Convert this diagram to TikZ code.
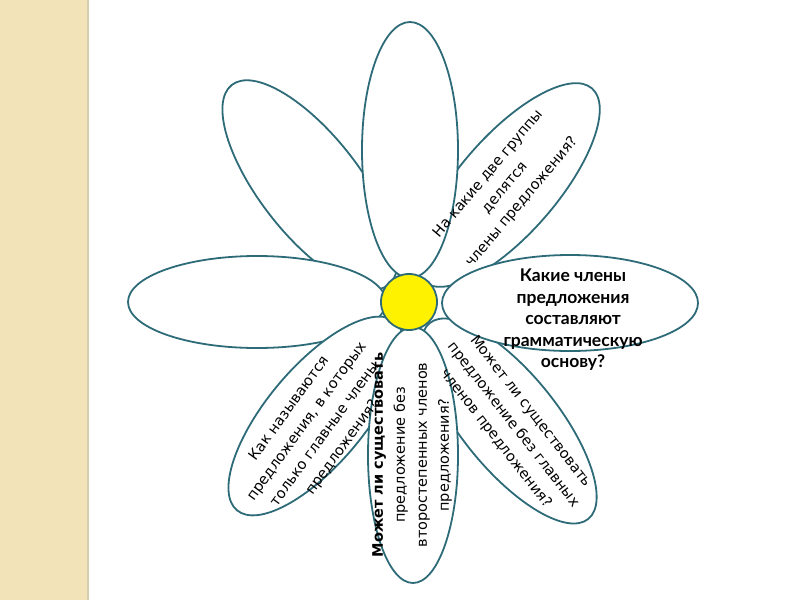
\documentclass[tikz,border=0pt]{standalone}
\usepackage{fontspec}
\setmainfont{Lato}
\newfontfamily\qfont{DejaVu Sans}
\definecolor{stripe}{RGB}{242,228,184}
\definecolor{stripeedge}{RGB}{214,206,176}
\definecolor{outline}{RGB}{46,107,120}
\begin{document}
\begin{tikzpicture}[x=1pt,y=-1pt,
  petal/.style={draw=outline, line width=1.8pt, fill=white},
  qtext/.style={align=center, font=\qfont\fontsize{14.5}{22}\selectfont, inner sep=0pt},
  btext/.style={align=center, font=\bfseries\fontsize{17.5}{21.5}\selectfont, inner sep=0pt}]
\useasboundingbox (0,0) rectangle (800,600);
% left stripe
\fill[stripe] (0,0) rectangle (88,600);
\draw[stripeedge, line width=2pt] (88,0) -- (88,600);
% petals
\draw[petal, rotate around={128:(310,185)}] (310,185) ellipse [x radius=127pt, y radius=50pt];
\draw[petal, rotate around={49:(508,185)}] (508,185) ellipse [x radius=128pt, y radius=49pt];
\draw[petal] (410,150) ellipse [x radius=48pt, y radius=128pt];
\draw[petal] (257,302) ellipse [x radius=129pt, y radius=46pt];
\draw[petal, rotate around={50:(316,416)}] (316,416) ellipse [x radius=123pt, y radius=49pt];
\draw[petal, rotate around={-51:(509,421)}] (509,421) ellipse [x radius=126pt, y radius=48pt];
\draw[petal] (570,303) ellipse [x radius=128pt, y radius=48pt];
\draw[petal] (413,455) ellipse [x radius=45pt, y radius=128pt];
% centre
\draw[draw=outline, line width=1.8pt, fill=yellow] (409,302) circle [radius=28pt];
% texts
\node[qtext, rotate=50] (q1) at (505,188) {На какие две группы\\делятся\\члены предложения?};
\node[btext] (q2) at (573,320) {Какие члены\\предложения\\составляют\\грамматическую\\основу?};
\node[qtext, rotate=54] (q3) at (316,428) {Как называются\\предложения, в которых\\только главные члены\\предложения?};
\node[qtext, rotate=90] (q4) at (412,455) {\textbf{Может ли существовать}\\предложение без\\второстепенных членов\\предложения?};
\node[qtext, rotate=-52] (q5) at (513,425) {Может ли существовать\\предложение без главных\\членов предложения?};
\end{tikzpicture}
\end{document}
